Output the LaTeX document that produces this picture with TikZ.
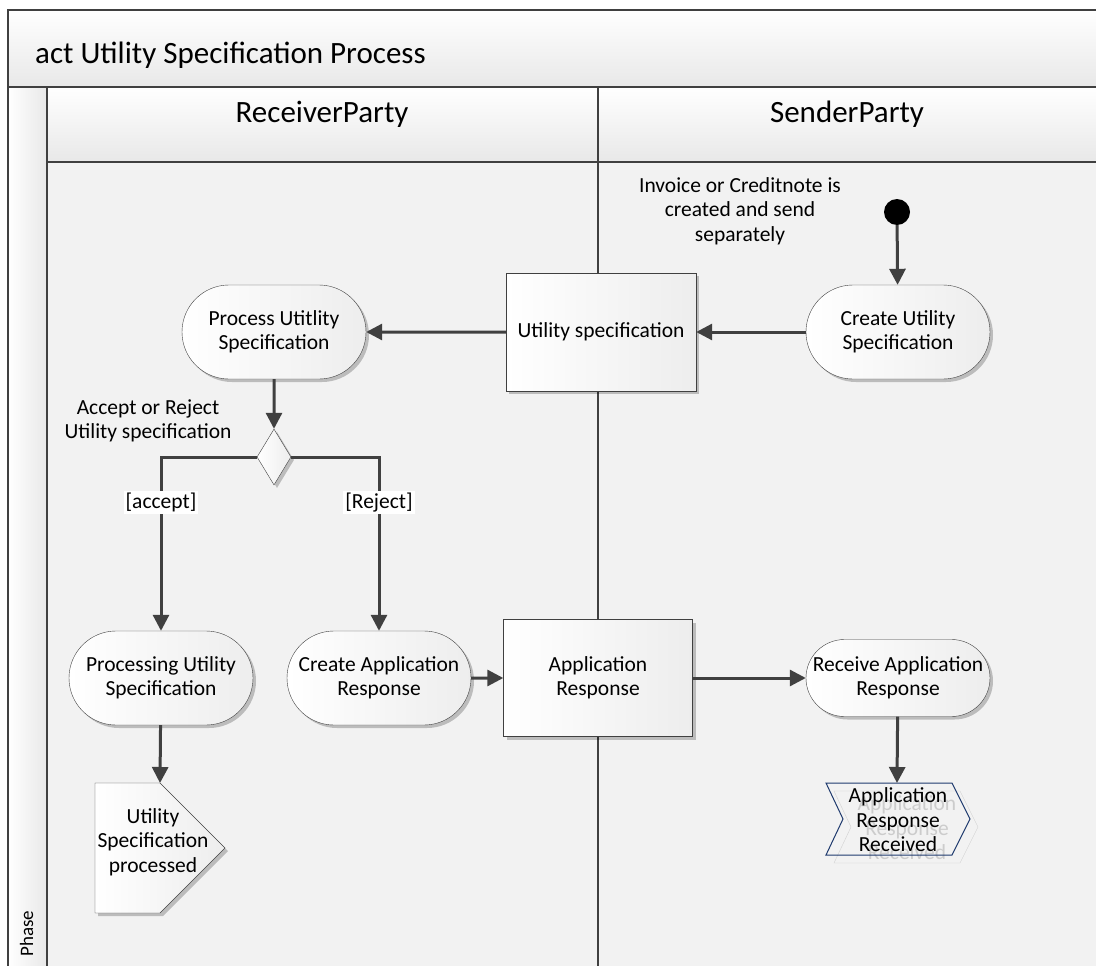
\documentclass[tikz,border=0pt]{standalone}
\usepackage{fontspec}
\setmainfont{Carlito}
\usetikzlibrary{positioning,arrows.meta,shapes.geometric,shapes.misc,shadows}
\definecolor{cLine}{HTML}{404040}
\definecolor{cBody}{HTML}{F2F2F2}
\definecolor{cSig}{HTML}{1F3A6E}

\begin{document}
\begin{tikzpicture}[x=1pt, y=-1pt,
  font=\fontsize{21.5}{24.5}\selectfont,
  nodefill/.style={left color=white, right color=black!7},
  shadowed/.style={drop shadow={shadow xshift=3pt, shadow yshift=-3pt, opacity=0.22, fill=black}},
  act/.style={rounded rectangle, draw=cLine, nodefill, shadowed, minimum width=188pt, minimum height=94pt, align=center, inner sep=2pt},
  obj/.style={rectangle, draw=cLine, nodefill, shadowed, minimum width=190pt, minimum height=118pt, align=center},
  choice/.style={diamond, draw=cLine, nodefill, shadowed, minimum width=34pt, minimum height=56pt, inner sep=0pt},
  arr/.style={-{Triangle[length=16pt, width=16pt]}, line width=3pt, draw=cLine},
  guard/.style={fill=white, inner sep=2pt},
  lbl/.style={align=center},
  big/.style={font=\fontsize{31}{36}\selectfont, inner sep=0pt},
  band/.style={top color=white, bottom color=black!9},
  frameline/.style={draw=cLine, line width=2pt}
]
\clip (0,0) rectangle (1096,966);
\fill[white] (0,0) rectangle (1096,966);
% frame and swimlanes
\fill[cBody] (47,162) rectangle (1096,966);
\shade[band] (8,10) rectangle (1096,87);
\shade[band] (47,87) rectangle (1096,162);
\shade[left color=white, right color=black!9] (8,87) rectangle (47,966);
\draw[frameline] (1100,10) -- (8,10) -- (8,970);
\draw[frameline] (8,87) -- (1100,87);
\draw[frameline] (47,87) -- (47,970);
\draw[frameline] (47,162) -- (1100,162);
\draw[frameline] (598,87) -- (598,970);
\node[big, anchor=base west] (title) at (35,64) {act Utility Specification Process};
\node[big, anchor=base] (rcvlane) at (322,122) {ReceiverParty};
\node[big, anchor=base] (sndlane) at (847,122) {SenderParty};
\node[rotate=90, anchor=base west, font=\fontsize{19}{23}\selectfont] (phase) at (33,960) {Phase};

% sender side
\fill[black] (897,212) circle (13pt);
\node[circle, minimum size=26pt, inner sep=0pt] (init) at (897,212) {};
\node[lbl] (note) at (740,211) {Invoice or Creditnote is\\created and send\\separately};
\node[act] (cus) at (898,332) {Create Utility\\Specification};
\node[obj] (usp) at (601,332) {Utility specification};
\node[act] (pus) at (274,332) {Process Utitlity\\Specification};
\node[choice] (dec) at (274,457) {};
\node[lbl] (declbl) at (148,421) {Accept or Reject\\Utility specification};
\draw[arr] (init) -- (cus);
\draw[arr] (cus) -- (usp);
\draw[arr] (usp) -- (pus);
\draw[arr] (pus) -- (dec);

% receiver side
\node[act] (pro) at (161,678) {Processing Utility\\Specification};
\node[act] (car) at (379,678) {Create Application\\Response};
\node[obj, minimum width=189pt, minimum height=117pt] (apr) at (598,678) {Application\\Response};
\node[act, minimum height=77pt] (rar) at (898,678) {Receive Application\\Response};
\draw[arr] (dec.west) -| node[guard, pos=0.63] {[accept]} (pro.north);
\draw[arr] (dec.east) -| node[guard, pos=0.63] {[Reject]} (car.north);
\draw[arr] (car) -- (apr);
\draw[arr] (apr) -- (rar);

% signals
\coordinate (uspin) at (160,783);
\draw[draw=cLine, nodefill, shadowed] (95,783) -- (uspin) -- (225,848) -- (160,913) -- (95,913) -- cycle;
\node[lbl] (usproc) at (153,842) {Utility\\Specification\\processed};
\draw[arr] (pro) -- (uspin);
\coordinate (rcvin) at (897,783);
\draw[draw=black!18] (834,791) -- (960,791) -- (978,827) -- (960,863) -- (834,863) -- (851,827) -- cycle;
\node[lbl, text=black!20] (rcvghost) at (907,828) {Application\\Response\\Received};
\draw[draw=cSig, line width=1pt] (826,783) -- (952,783) -- (970,819) -- (952,855) -- (826,855) -- (843,819) -- cycle;
\node[lbl] (rcvd) at (898,820) {Application\\Response\\Received};
\draw[arr] (rar) -- (rcvin);
\end{tikzpicture}
\end{document}
